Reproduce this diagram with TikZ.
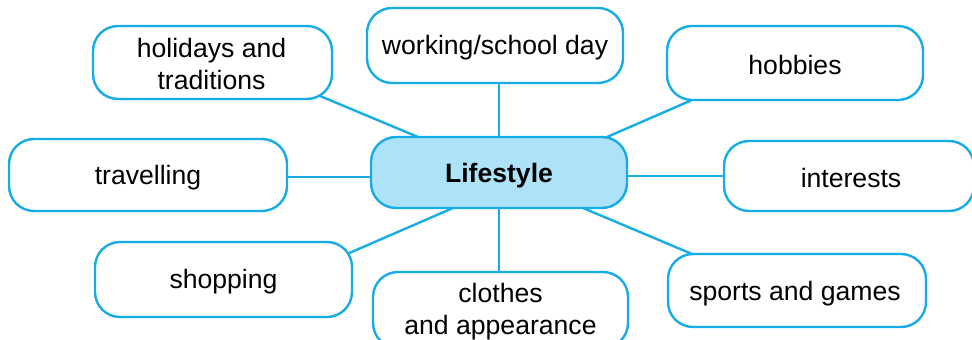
\documentclass[tikz,border=0pt]{standalone}
\usepackage{fontspec}
\setmainfont{Liberation Sans}
\usetikzlibrary{calc,backgrounds}
\definecolor{lineblue}{HTML}{16ACE6}
\definecolor{fillblue}{HTML}{AEE2F8}
\tikzset{
  topic/.style={draw=lineblue, line width=1.2pt, rounded corners=12.5pt, fill=white,
    inner sep=0pt, outer sep=0pt},
  hub/.style={topic, fill=fillblue},
  txt/.style={inner sep=0pt, align=center, font=\fontsize{13.3}{16}\selectfont},
  hubtxt/.style={txt, font=\fontsize{13.3}{16}\selectfont\bfseries},
  conn/.style={draw=lineblue, line width=1.2pt}
}
\begin{document}
\begin{tikzpicture}[x=0.5pt,y=-0.5pt]
\useasboundingbox (0,0) rectangle (972,340);
\node[hub, minimum width=128pt, minimum height=35.5pt] (life) at (499,172.5) {};
\node[topic, minimum width=119.5pt, minimum height=36.5pt] (hol) at (212.5,62.5) {};
\node[topic, minimum width=128pt, minimum height=37.5pt] (work) at (495,45.5) {};
\node[topic, minimum width=128pt, minimum height=37pt] (hob) at (795,63) {};
\node[topic, minimum width=139pt, minimum height=36pt] (trav) at (148,175) {};
\node[topic, minimum width=125pt, minimum height=35pt] (int) at (849,176) {};
\node[topic, minimum width=128.5pt, minimum height=37.5pt] (shop) at (223.5,279.5) {};
\node[topic, minimum width=127.5pt, minimum height=38pt] (clo) at (500.5,310) {};
\node[topic, minimum width=129pt, minimum height=36.5pt] (sports) at (797,290.5) {};
\node[hubtxt] (lifeT) at ($(life)+(0,3)$) {Lifestyle};
\node[txt] (holT) at ($(hol)+(-1,1.5)$) {holidays and\\traditions};
\node[txt] (workT) at ($(work)+(0,2)$) {working/school day};
\node[txt] (hobT) at ($(hob)+(0,2)$) {hobbies};
\node[txt] (travT) at ($(trav)+(0,3)$) {travelling};
\node[txt] (intT) at ($(int)+(2,2)$) {interests};
\node[txt] (shopT) at ($(shop)+(0,2)$) {shopping};
\node[txt] (cloT) at ($(clo)+(0,2)$) {clothes\\and appearance};
\node[txt] (sportsT) at ($(sports)+(-2,3)$) {sports and games};
\begin{scope}[on background layer]
\draw[conn] ($(hol.south east)+(-12,-3)$) -- ($(life.north west)+(47,0)$);
\draw[conn] (life.north |- work.south) -- (life.north);
\draw[conn] ($(hob.south west)+(25,0)$) -- ($(life.north east)+(-20,0)$);
\draw[conn] ($(trav.east)+(0,2)$) coordinate (t1) -- (t1 -| life.west);
\draw[conn] (life.east |- int.west) -- (int.west);
\draw[conn] ($(shop.north east)+(-5,12)$) -- ($(life.south west)+(82,0)$);
\draw[conn] (life.south |- clo.north) -- (life.south);
\draw[conn] ($(sports.north west)+(24,0)$) -- ($(life.south east)+(-44,0)$);
\end{scope}
\end{tikzpicture}
\end{document}
